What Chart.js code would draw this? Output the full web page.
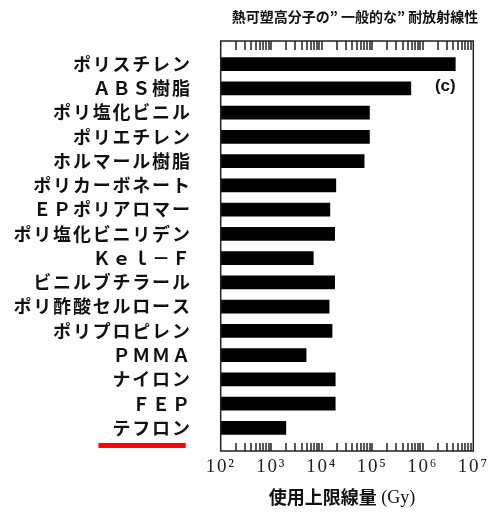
<!DOCTYPE html>
<html><head><meta charset="utf-8">
<script src="https://cdn.jsdelivr.net/npm/chart.js@4"></script>
<style>html,body{margin:0;padding:0;background:#fff}</style>
</head><body>
<canvas id="c" width="492" height="515"></canvas>
<script>
const categories = ['ポリスチレン','ＡＢＳ樹脂','ポリ塩化ビニル','ポリエチレン','ホルマール樹脂','ポリカーボネート','ＥＰポリアロマー','ポリ塩化ビニリデン','Ｋｅｌ－Ｆ','ビニルブチラール','ポリ酢酸セルロース','ポリプロピレン','ＰＭＭＡ','ナイロン','ＦＥＰ','テフロン'];
const doseLimits = [4.4e6, 5.8e5, 8.8e4, 8.8e4, 6.9e4, 1.9e4, 1.45e4, 1.8e4, 6.8e3, 1.8e4, 1.4e4, 1.6e4, 4.9e3, 1.85e4, 1.85e4, 1.95e3];
const tickValues = [1e2, 1e3, 1e4, 1e5, 1e6, 1e7];
const tickLabels = ['10²','10³','10⁴','10⁵','10⁶','10⁷'];
const titleText = '熱可塑高分子の” 一般的な” 耐放射線性';
const axisTitleJa = '使用上限線量';
const axisTitleUnit = ' (Gy)';
const panelLabel = '(c)';
const highlighted = 'テフロン';

const LABEL_PAD = 29;
const labelFont = 'bold 18px "Noto Sans CJK JP"';
const SPACING = '1.8px';

const decor = {
  id: 'decor',
  beforeDraw(chart) { chart.ctx.letterSpacing = SPACING; },
  beforeDatasetsDraw(chart) { chart.ctx.letterSpacing = '0px'; },
  afterDraw(chart) {
    const ctx = chart.ctx, a = chart.chartArea, xs = chart.scales.x, ys = chart.scales.y;
    ctx.save();
    ctx.letterSpacing = '0px';
    ctx.setLineDash([]);
    ctx.globalAlpha = 1;
    // frame
    ctx.strokeStyle = '#222';
    ctx.lineWidth = 1.5;
    ctx.strokeRect(a.left, a.top, a.right - a.left, a.bottom - a.top);
    // inward log ticks (2..10 within each decade) top & bottom
    ctx.fillStyle = '#222';
    for (let d = 0; d < tickValues.length - 1; d++) {
      for (let k = 2; k <= 10; k++) {
        const px = Math.round(xs.getPixelForValue(tickValues[d] * k));
        if (!(px > a.left + 1 && px < a.right - 1)) continue;
        ctx.fillRect(px - 0.75, a.bottom - 8, 1.5, 8);
        ctx.fillRect(px - 0.75, a.top, 1.5, 9);
      }
    }
    // title
    ctx.fillStyle = '#111';
    ctx.font = 'bold 14px "Noto Sans CJK JP"';
    ctx.textAlign = 'right'; ctx.textBaseline = 'middle';
    ctx.fillText(titleText, a.right + 5, 17);
    // panel label
    ctx.font = 'bold 17px "Liberation Sans"';
    ctx.textAlign = 'center';
    ctx.fillText(panelLabel, a.right - 28, ys.getPixelForValue(1) - 2);
    // axis title
    ctx.font = 'bold 18px "Noto Sans CJK JP"';
    const w1 = ctx.measureText(axisTitleJa).width;
    ctx.font = '18px "Liberation Serif"';
    const w2 = ctx.measureText(axisTitleUnit).width;
    const cx = (a.left + a.right) / 2 - 5;
    const x0 = cx - (w1 + w2) / 2;
    ctx.textAlign = 'left';
    ctx.font = 'bold 18px "Noto Sans CJK JP"';
    ctx.fillText(axisTitleJa, x0, 497);
    ctx.font = '18px "Liberation Serif"';
    ctx.fillText(axisTitleUnit, x0 + w1, 498);
    // red underline under highlighted label
    const idx = categories.indexOf(highlighted);
    const yy = ys.getPixelForValue(idx);
    ctx.letterSpacing = SPACING;
    ctx.font = labelFont;
    const tw = ctx.measureText(highlighted).width;
    const right = a.left - LABEL_PAD;
    ctx.fillStyle = '#ff0000';
    ctx.fillRect(right - tw - 14, yy + 15, tw + 8, 5);
    ctx.restore();
  }
};

new Chart(document.getElementById('c'), {
  type: 'bar',
  data: {
    datasets: [{
      data: categories.map((c, i) => ({ y: i, x: doseLimits[i] })),
      backgroundColor: '#000',
      borderWidth: 0,
      barThickness: 13
    }]
  },
  options: {
    indexAxis: 'y',
    responsive: false,
    animation: false,
    devicePixelRatio: 1,
    layout: { padding: { top: 41, right: 18.7, bottom: 0, left: 0 } },
    plugins: { legend: { display: false }, tooltip: { enabled: false }, title: { display: false } },
    scales: {
      x: {
        type: 'logarithmic', min: 100, max: 1e7, position: 'bottom',
        grid: { display: false, drawTicks: false },
        border: { display: false },
        ticks: {
          autoSkip: false, maxRotation: 0, padding: 5, color: '#222',
          font: { family: '"Liberation Serif", "DejaVu Serif"', size: 19 },
          callback: (v) => {
            const l = Math.log10(v);
            if (Math.abs(l - Math.round(l)) > 1e-6) return '';
            const i = tickValues.findIndex(t => Math.abs(Math.log10(t) - l) < 1e-6);
            return i >= 0 ? tickLabels[i] : '';
          }
        },
        afterFit: s => { s.height = 64; }
      },
      y: {
        type: 'linear', min: -0.95, max: 15.95, reverse: true, offset: false, bounds: 'data',
        afterBuildTicks: s => { s.ticks = categories.map((_, i) => ({ value: i })); },
        grid: { display: false, drawTicks: false, offset: false },
        border: { display: false },
        ticks: {
          padding: LABEL_PAD, color: '#111', autoSkip: false,
          font: { family: '"Noto Sans CJK JP"', size: 18, weight: 'bold' },
          callback: (v) => categories[v] ?? ''
        },
        afterFit: s => { s.width = 220.7; }
      }
    }
  },
  plugins: [decor]
});
</script>
</body></html>
